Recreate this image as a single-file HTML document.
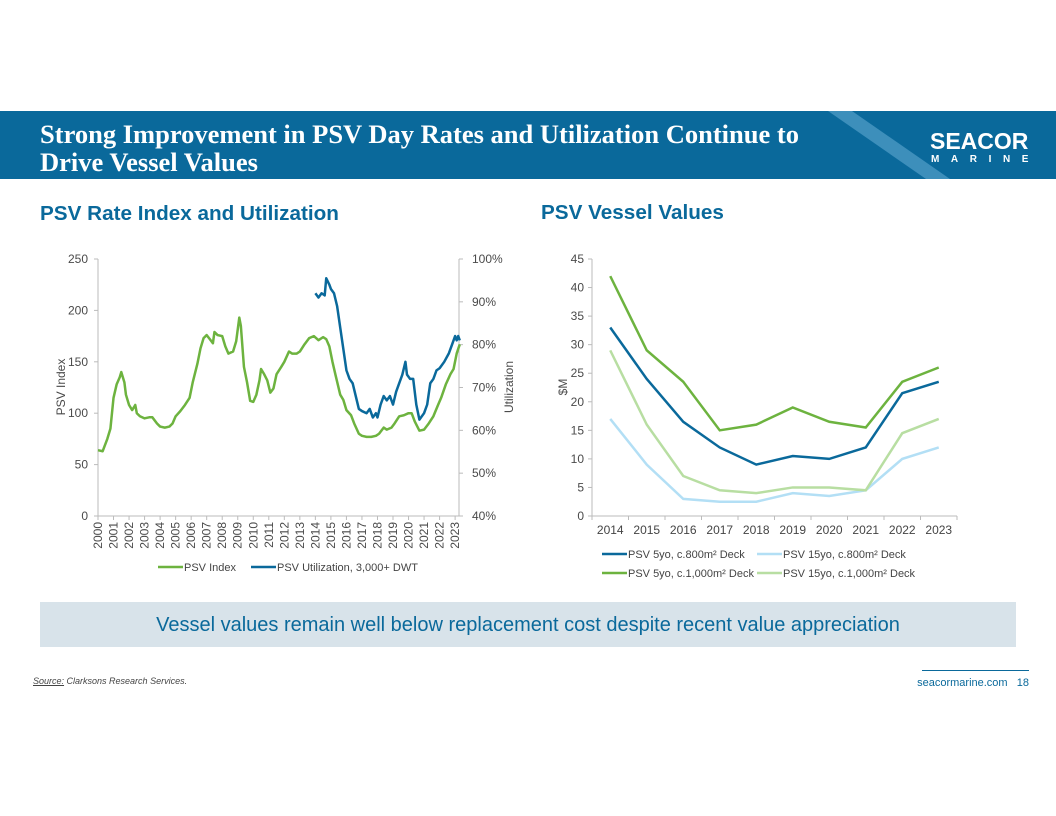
<!DOCTYPE html>
<html><head><meta charset="utf-8">
<style>
body{margin:0;width:1056px;height:816px;background:#fff;position:relative;overflow:hidden;font-family:"Liberation Sans",sans-serif;}
.abs{position:absolute;}
</style></head>
<body>
<div class="abs" style="left:0;top:111px;width:1056px;height:68px;background:#0a699b;overflow:hidden;">
  <svg width="1056" height="68" style="position:absolute;left:0;top:0"><polygon points="828,0 852,0 950,68 926,68" fill="#3d8fbb"/></svg>
  <div style="position:absolute;left:40px;top:9px;color:#fff;font-family:'Liberation Serif',serif;font-weight:bold;font-size:26.5px;line-height:28px;">Strong Improvement in PSV Day Rates and Utilization Continue to<br>Drive Vessel Values</div>
  <div style="position:absolute;left:930px;top:19px;color:#fff;font-weight:bold;font-size:23px;line-height:22px;">SEACOR</div>
  <div style="position:absolute;left:931px;top:43px;color:#fff;font-weight:bold;font-size:10px;letter-spacing:11.6px;">MARINE</div>
</div>
<div class="abs" style="left:40px;top:202px;color:#0a699b;font-weight:bold;font-size:20.7px;">PSV Rate Index and Utilization</div>
<div class="abs" style="left:541px;top:201px;color:#0a699b;font-weight:bold;font-size:20.7px;">PSV Vessel Values</div>

<svg class="abs" style="left:0;top:0" width="1056" height="600" id="charts"></svg>

<div class="abs" style="left:40px;top:602px;width:976px;height:45px;background:#d8e3ea;color:#0a699b;font-size:20px;line-height:47px;text-align:center;">Vessel values remain well below replacement cost despite recent value appreciation</div>
<div class="abs" style="left:33px;top:676px;font-size:9px;font-style:italic;color:#444;"><span style="text-decoration:underline">Source:</span> Clarksons Research Services.</div>
<div class="abs" style="left:922px;top:670px;width:107px;height:1px;background:#0a699b;"></div>
<div class="abs" style="left:900px;top:677px;width:129px;text-align:right;font-size:11px;color:#0a699b;">seacormarine.com&nbsp;&nbsp;&nbsp;18</div>

<script>
const years = [2000,2001,2002,2003,2004,2005,2006,2007,2008,2009,2010,2011,2012,2013,2014,2015,2016,2017,2018,2019,2020,2021,2022,2023];
const leftTicks = [0,50,100,150,200,250];
const rightTicks = ["40%","50%","60%","70%","80%","90%","100%"];
const indexT = [2000.0,2000.3,2000.6,2000.8,2001.0,2001.2,2001.4,2001.5,2001.7,2001.8,2002.0,2002.2,2002.4,2002.5,2002.7,2003.0,2003.3,2003.5,2003.8,2004.0,2004.3,2004.6,2004.8,2005.0,2005.3,2005.6,2005.9,2006.1,2006.4,2006.6,2006.8,2007.0,2007.2,2007.4,2007.5,2007.7,2008.0,2008.2,2008.4,2008.7,2008.9,2009.1,2009.2,2009.4,2009.6,2009.8,2010.0,2010.2,2010.4,2010.5,2010.7,2010.9,2011.1,2011.3,2011.5,2011.8,2012.0,2012.3,2012.5,2012.8,2013.0,2013.3,2013.6,2013.9,2014.2,2014.5,2014.7,2014.9,2015.1,2015.3,2015.6,2015.8,2016.0,2016.3,2016.5,2016.8,2017.0,2017.3,2017.6,2017.9,2018.1,2018.4,2018.6,2018.9,2019.1,2019.4,2019.7,2020.0,2020.2,2020.4,2020.7,2021.0,2021.3,2021.6,2021.9,2022.1,2022.4,2022.7,2022.9,2023.1,2023.3];
const indexV = [64,63,75,85,115,128,135,140,130,118,108,103,108,100,97,95,96,96,90,87,86,87,90,97,102,108,115,130,148,163,173,176,172,168,179,176,175,165,158,160,170,193,185,145,130,112,111,118,132,143,138,132,120,124,138,145,150,160,158,158,160,167,173,175,171,174,172,165,150,137,118,113,103,98,90,80,78,77,77,78,80,86,84,86,90,97,98,100,100,92,83,84,90,97,108,115,128,138,143,158,167];
const utilT = [2014.0,2014.2,2014.4,2014.6,2014.7,2014.9,2015.0,2015.2,2015.4,2015.6,2015.8,2016.0,2016.2,2016.4,2016.6,2016.8,2017.0,2017.3,2017.5,2017.7,2017.9,2018.0,2018.2,2018.4,2018.6,2018.8,2019.0,2019.2,2019.4,2019.6,2019.8,2019.9,2020.1,2020.3,2020.5,2020.7,2021.0,2021.2,2021.4,2021.6,2021.8,2022.0,2022.3,2022.6,2022.8,2023.0,2023.1,2023.2,2023.3];
const utilV = [92,91,92,91.5,95.5,94,93,92,89,84,79,74,72,71,68,65,64.5,64,65,63,64,63,66,68,67,68,66,69,71,73,76,73,72,72,66,62.5,64,66,71,72,74,74.5,76,78,80,82,81,82,81];

const valYears = ["2014","2015","2016","2017","2018","2019","2020","2021","2022","2023"];
const v5y800 = [33,24,16.5,12,9,10.5,10,12,21.5,23.5];
const v15y800 = [17,9,3,2.5,2.5,4,3.5,4.5,10,12];
const v5y1000 = [42,29,23.5,15,16,19,16.5,15.5,23.5,26];
const v15y1000 = [29,16,7,4.5,4,5,5,4.5,14.5,17];
const rightTickVals = [0,5,10,15,20,25,30,35,40,45];

const svg = document.getElementById('charts');
const NS='http://www.w3.org/2000/svg';
function mk(tag, attrs, parent){const e=document.createElementNS(NS,tag);for(const k in attrs)e.setAttribute(k,attrs[k]);(parent||svg).appendChild(e);return e;}
function txt(x,y,s,attrs){const e=mk('text',Object.assign({x:x,y:y,'font-family':'Liberation Sans, sans-serif','font-size':12,fill:'#4a4a4a'},attrs||{}));e.textContent=s;return e;}

// LEFT CHART
const L={x0:98,x1:459,y0:516,y1:259};
const lx=t=>L.x0+(t-2000)*(L.x1-L.x0)/23.25;
const ly=v=>L.y0-v*(L.y0-L.y1)/250;
const ry=p=>L.y0-(p-40)*(L.y0-L.y1)/60;
let ax=mk('line',{x1:L.x0,y1:L.y1,x2:L.x0,y2:L.y0,stroke:'#bbb'});

ax=mk('line',{x1:L.x1,y1:L.y1,x2:L.x1,y2:L.y0,stroke:'#bbb'});

ax=mk('line',{x1:L.x0,y1:L.y0,x2:L.x1,y2:L.y0,stroke:'#bbb'});

leftTicks.forEach(v=>{mk('line',{x1:L.x0-4,x2:L.x0,y1:ly(v),y2:ly(v),stroke:'#bbb'});
  const t=txt(L.x0-10,ly(v)+4,String(v),{'text-anchor':'end'});
  });
rightTicks.forEach((s,i)=>{const p=40+i*10;mk('line',{x1:L.x1,x2:L.x1+4,y1:ry(p),y2:ry(p),stroke:'#bbb'});
  const t=txt(L.x1+13,ry(p)+4,s);
  });
years.forEach(y=>{const x=lx(y);mk('line',{x1:x,x2:x,y1:L.y0,y2:L.y0+4,stroke:'#bbb'});
  const t=txt(0,0,String(y),{'text-anchor':'end',transform:`translate(${x+4},${L.y0+6}) rotate(-90)`});
  });
let at=txt(0,0,'PSV Index',{'text-anchor':'middle',transform:'translate(65,387) rotate(-90)','font-size':12});

at=txt(0,0,'Utilization',{'text-anchor':'middle',transform:'translate(513,387) rotate(-90)','font-size':12});

let pl=mk('polyline',{points:indexT.map((t,i)=>lx(t)+','+ly(indexV[i])).join(' '),fill:'none',stroke:'#6db33f','stroke-width':2.5,'stroke-linejoin':'round'});

pl=mk('polyline',{points:utilT.map((t,i)=>lx(t)+','+ry(utilV[i])).join(' '),fill:'none',stroke:'#0a699b','stroke-width':2.5,'stroke-linejoin':'round'});

let lg=mk('line',{x1:158,x2:183,y1:567,y2:567,stroke:'#6db33f','stroke-width':2.5});

txt(184,571,'PSV Index',{fill:'#444','font-size':11});
lg=mk('line',{x1:251,x2:276,y1:567,y2:567,stroke:'#0a699b','stroke-width':2.5});

txt(277,571,'PSV Utilization, 3,000+ DWT',{fill:'#444','font-size':11});

// RIGHT CHART
const R={x0:592,x1:957,y0:516,y1:259};
const bw=(R.x1-R.x0)/valYears.length;
const vx=i=>R.x0+bw*(i+0.5);
const vy=v=>R.y0-v*(R.y0-R.y1)/45;
ax=mk('line',{x1:R.x0,y1:R.y1,x2:R.x0,y2:R.y0,stroke:'#bbb'});

ax=mk('line',{x1:R.x0,y1:R.y0,x2:R.x1,y2:R.y0,stroke:'#bbb'});

rightTickVals.forEach(v=>{mk('line',{x1:R.x0-4,x2:R.x0,y1:vy(v),y2:vy(v),stroke:'#bbb'});
  const t=txt(R.x0-8,vy(v)+4,String(v),{'text-anchor':'end'});
  });
for(let i=0;i<=valYears.length;i++){const x=R.x0+bw*i;mk('line',{x1:x,x2:x,y1:R.y0,y2:R.y0+4,stroke:'#bbb'});}
valYears.forEach((y,i)=>{const t=txt(vx(i),534,y,{'text-anchor':'middle',fill:'#444'});
  });
at=txt(0,0,'$M',{'text-anchor':'middle',transform:'translate(567,387) rotate(-90)','font-size':12});

const series=[[v15y800,'#b3dff5','psv-15yo-800-line'],[v15y1000,'#b8dea2','psv-15yo-1000-line'],[v5y800,'#0a699b','psv-5yo-800-line'],[v5y1000,'#6db33f','psv-5yo-1000-line']];
series.forEach(s=>{const p=mk('polyline',{points:s[0].map((v,i)=>vx(i)+','+vy(v)).join(' '),fill:'none',stroke:s[1],'stroke-width':2.5});
  });
const legs=[[602,554,'#0a699b','PSV 5yo, c.800m² Deck'],[757,554,'#b3dff5','PSV 15yo, c.800m² Deck'],[602,573,'#6db33f','PSV 5yo, c.1,000m² Deck'],[757,573,'#b8dea2','PSV 15yo, c.1,000m² Deck']];
legs.forEach(l=>{const e=mk('line',{x1:l[0],x2:l[0]+25,y1:l[1],y2:l[1],stroke:l[2],'stroke-width':2.5});
  
  txt(l[0]+26,l[1]+4,l[3],{fill:'#444','font-size':11});});
</script>
</body></html>
